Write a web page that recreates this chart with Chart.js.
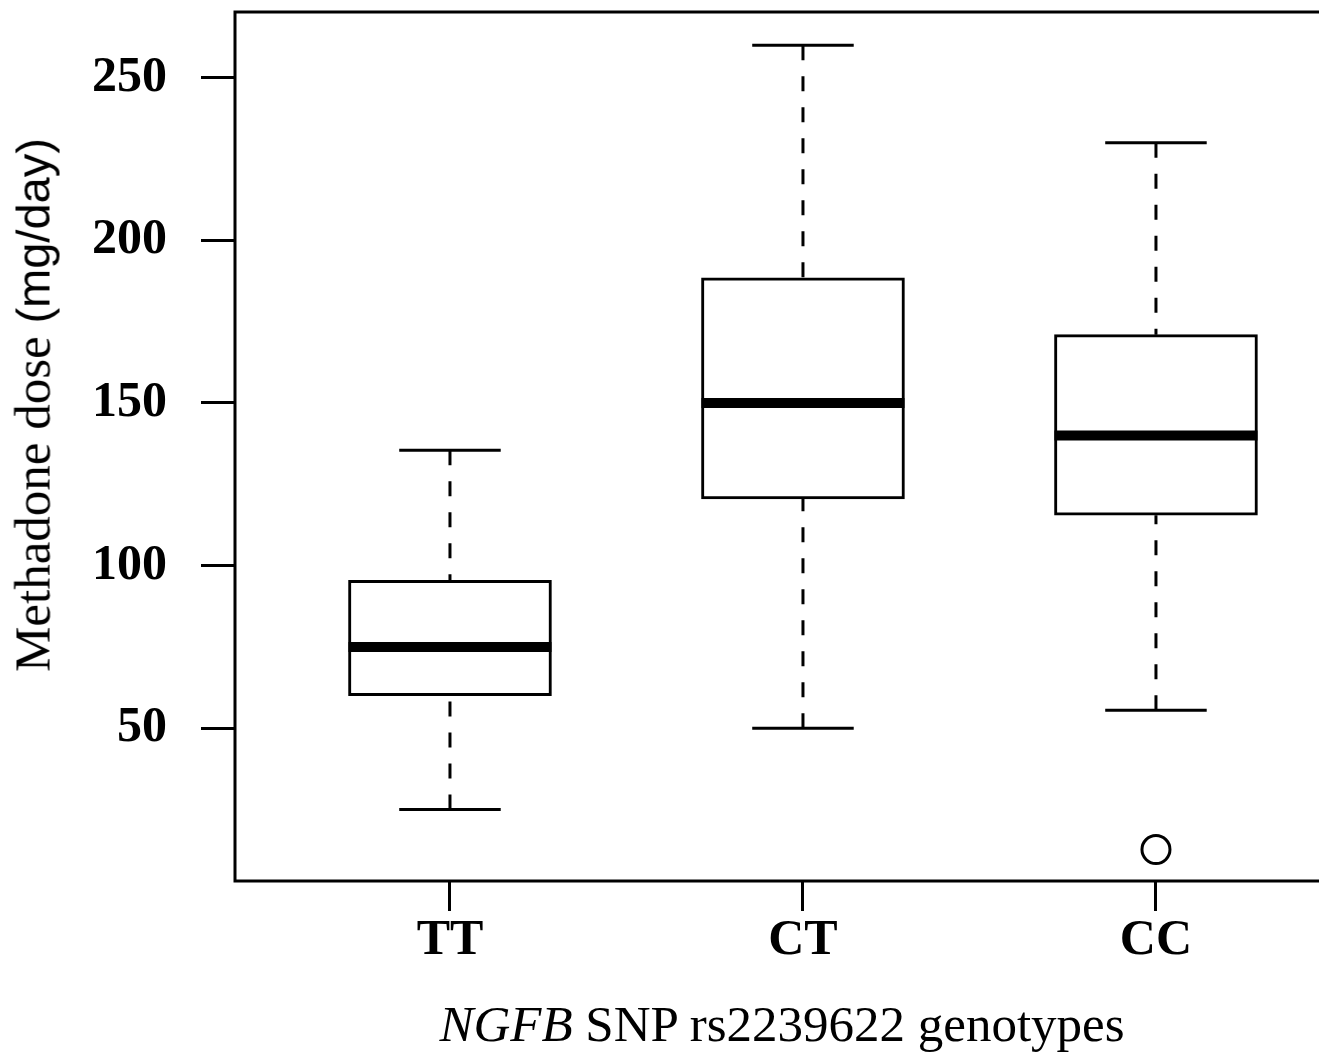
<!DOCTYPE html>
<html>
<head>
<meta charset="utf-8">
<script src="https://cdn.jsdelivr.net/npm/chart.js@4.4.1/dist/chart.umd.min.js"></script>
<style>
  html, body { margin: 0; padding: 0; background: #fff; overflow: hidden; }
  #frame { position: relative; width: 1319px; height: 1052px; overflow: hidden; }
  #wrap { position: absolute; left: 0; top: 0; width: 1360px; height: 1052px; }
  .axis-title { position: absolute; white-space: nowrap; color: #000; font-family: 'Liberation Serif', 'Times New Roman', serif; }
  #xTitle { left: 782px; top: 999px; font-size: 51px; line-height: 51px; transform: translateX(-50%); }
  #yTitle { left: 33px; top: 405px; font-size: 51px; line-height: 51px; transform: translate(-50%, -50%) rotate(-90deg); }
  #yTitle .unit { font-family: 'Liberation Sans', Arial, sans-serif; font-size: 47px; }
</style>
</head>
<body>
<div id="frame">
  <div id="wrap"><canvas id="boxChart"></canvas></div>
  <div class="axis-title" id="yTitle">Methadone dose <span class="unit">(mg/day)</span></div>
  <div class="axis-title" id="xTitle"><i>NGFB</i> SNP rs2239622 genotypes</div>
</div>
<script>
// genotype groups and their box plot stats (mg/day)
const genotypes = ['TT', 'CT', 'CC'];
const groupPos = [1, 2, 3];
const whiskerLow = [25, 50, 55.5];
const q1 = [60, 120.5, 115.5];
const medians = [75, 150, 140];
const q3 = [95.5, 188.5, 171];
const whiskerHigh = [135.5, 260, 230];

// outliers
const outlierGroup = [3];
const outlierValue = [12.7];

const yTicks = [50, 100, 150, 200, 250];

const tickFont = { family: "'Liberation Serif', 'Times New Roman', serif", size: 50, weight: 'bold' };

// medians, whiskers, caps and the plot frame
const boxExtras = {
    id: 'boxExtras',
    afterDatasetsDraw(chart) {
        const { ctx, chartArea, scales: { x, y } } = chart;
        const bars = chart.getDatasetMeta(0).data;
        ctx.save();
        ctx.strokeStyle = '#000';
        groupPos.forEach((g, i) => {
            const cx = x.getPixelForValue(g);
            const half = bars[i].width / 2;
            const capHalf = half / 2;

            // whiskers, dashed from the cap toward the box
            ctx.lineWidth = 3;
            ctx.setLineDash([15, 16]);
            ctx.beginPath();
            ctx.moveTo(cx, y.getPixelForValue(whiskerHigh[i]));
            ctx.lineTo(cx, y.getPixelForValue(q3[i]));
            ctx.moveTo(cx, y.getPixelForValue(whiskerLow[i]));
            ctx.lineTo(cx, y.getPixelForValue(q1[i]));
            ctx.stroke();
            ctx.setLineDash([]);

            // caps
            ctx.beginPath();
            [whiskerHigh[i], whiskerLow[i]].forEach(v => {
                const py = y.getPixelForValue(v);
                ctx.moveTo(cx - capHalf, py);
                ctx.lineTo(cx + capHalf, py);
            });
            ctx.stroke();

            // median
            ctx.lineWidth = 10;
            ctx.lineCap = 'butt';
            const my = y.getPixelForValue(medians[i]);
            ctx.beginPath();
            ctx.moveTo(cx - half, my);
            ctx.lineTo(cx + half, my);
            ctx.stroke();
        });

        ctx.lineWidth = 3;
        ctx.strokeRect(chartArea.left, chartArea.top, chartArea.right - chartArea.left, chartArea.bottom - chartArea.top);
        ctx.restore();
    }
};

new Chart(document.getElementById('boxChart'), {
    data: {
        datasets: [{
            type: 'bar',
            data: groupPos.map((g, i) => ({ x: g, y: [q1[i], q3[i]] })),
            backgroundColor: '#fff',
            borderColor: '#000',
            borderWidth: 3,
            borderSkipped: false,
            barThickness: 203
        }, {
            type: 'scatter',
            data: outlierGroup.map((g, i) => ({ x: g, y: outlierValue[i] })),
            pointStyle: 'circle',
            pointRadius: 14,
            borderWidth: 3,
            borderColor: '#000',
            backgroundColor: 'rgba(0,0,0,0)'
        }]
    },
    options: {
        responsive: true,
        maintainAspectRatio: false,
        animation: false,
        layout: { autoPadding: false, padding: { top: 12, right: 0, bottom: 0, left: 0 } },
        plugins: { legend: { display: false }, tooltip: { enabled: false } },
        scales: {
            x: {
                type: 'linear',
                offset: false,
                min: 0.391,
                max: 3.578,
                afterBuildTicks: scale => { scale.ticks = groupPos.map(v => ({ value: v })); },
                afterFit: scale => { scale.height = 171; scale.paddingLeft = 0; scale.paddingRight = 0; },
                grid: { offset: false, drawOnChartArea: false, drawTicks: true, tickLength: 30, color: '#000', lineWidth: 3 },
                border: { display: false },
                ticks: {
                    autoSkip: false,
                    maxRotation: 0,
                    padding: 0,
                    color: '#000',
                    font: tickFont,
                    callback: v => genotypes[groupPos.indexOf(v)]
                }
            },
            y: {
                min: 3.04,
                max: 270.2,
                afterBuildTicks: scale => { scale.ticks = yTicks.map(v => ({ value: v })); },
                afterFit: scale => { scale.width = 235; scale.paddingTop = 0; scale.paddingBottom = 0; },
                grid: { drawOnChartArea: false, drawTicks: true, tickLength: 34, color: '#000', lineWidth: 3 },
                border: { display: false },
                ticks: { padding: 34, color: '#000', font: tickFont }
            }
        }
    },
    plugins: [boxExtras]
});
</script>
</body>
</html>
